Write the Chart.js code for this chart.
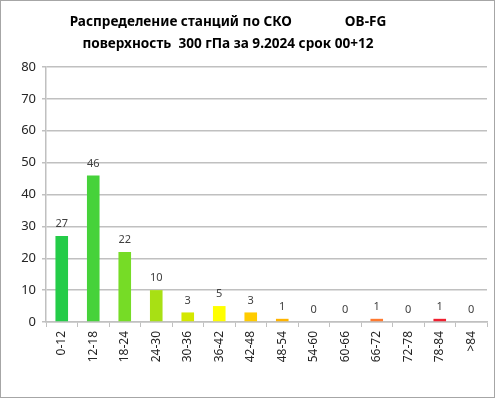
<!DOCTYPE html>
<html>
<head>
<meta charset="utf-8">
<script src="https://cdn.jsdelivr.net/npm/chart.js@4"></script>
<style>
  html, body { margin: 0; padding: 0; background: #fff; }
  #wrap { width: 496px; height: 399px; position: relative; }
</style>
</head>
<body>
<div id="wrap"><canvas id="skoChart" width="496" height="399"></canvas></div>
<script>
// Распределение станций по СКО, OB-FG
const categories = ['0-12', '12-18', '18-24', '24-30', '30-36', '36-42', '42-48',
                    '48-54', '54-60', '60-66', '66-72', '72-78', '78-84', '>84'];
const stationCounts = [27, 46, 22, 10, 3, 5, 3, 1, 0, 0, 1, 0, 1, 0];
const barColors = ['#24cc48', '#46d23a', '#76dc26', '#a8e014', '#d4e800', '#ffff00', '#ffcc00',
                   '#ffb400', '#ff9a10', '#ff8820', '#ff7a30', '#ff5528', '#f02030', '#cc0000'];
const yTicks = [0, 10, 20, 30, 40, 50, 60, 70, 80];
const titleLines = ['Распределение станций по СКО               OB-FG',
                    'поверхность  300 гПа за 9.2024 срок 00+12'];

const FONT = "'Noto Sans', 'DejaVu Sans', sans-serif";

// рамка, заголовок и подписи значений
const decorPlugin = {
    id: 'decor',
    beforeDraw(chart) {
        const ctx = chart.ctx;
        ctx.save();
        ctx.fillStyle = '#fff';
        ctx.fillRect(0, 0, chart.width, chart.height);
        ctx.strokeStyle = '#a6a6a6';
        ctx.lineWidth = 1;
        ctx.strokeRect(0.5, 0.5, 494, 397);
        ctx.restore();
    },
    afterDraw(chart) {
        const ctx = chart.ctx;
        ctx.save();
        ctx.fillStyle = '#000';
        ctx.font = 'bold 13.6px ' + FONT;
        ctx.textAlign = 'center';
        ctx.textBaseline = 'middle';
        ctx.fillText(titleLines[0], 228, 22);
        ctx.fillText(titleLines[1], 228, 44);

        ctx.font = '11px ' + FONT;
        ctx.fillStyle = '#404040';
        const meta = chart.getDatasetMeta(0);
        meta.data.forEach((bar, i) => {
            ctx.fillText(String(stationCounts[i]), bar.x, bar.y - 12);
        });
        ctx.restore();
    }
};

new Chart(document.getElementById('skoChart'), {
    type: 'bar',
    data: {
        labels: categories,
        datasets: [{
            data: stationCounts,
            backgroundColor: barColors,
            borderWidth: 0,
            barPercentage: 0.4,
            categoryPercentage: 1.0
        }]
    },
    options: {
        responsive: false,
        animation: false,
        layout: {
            padding: { top: 67, right: 9, bottom: 0, left: 0 }
        },
        plugins: {
            legend: { display: false },
            title: { display: false },
            tooltip: { enabled: false }
        },
        scales: {
            y: {
                min: 0,
                max: 80,
                afterBuildTicks(scale) {
                    scale.ticks = yTicks.map(v => ({ value: v }));
                },
                afterFit(scale) {
                    scale.width = 46;
                },
                ticks: {
                    font: { family: FONT, size: 13 },
                    color: '#262626',
                    padding: 6
                },
                grid: {
                    color: '#c0c0c0',
                    lineWidth: 1.5,
                    tickLength: 4
                },
                border: { color: '#c0c0c0', width: 1.5 }
            },
            x: {
                afterFit(scale) {
                    scale.height = 77;
                },
                ticks: {
                    font: { family: FONT, size: 12 },
                    color: '#262626',
                    minRotation: 90,
                    maxRotation: 90,
                    padding: 4
                },
                grid: {
                    drawOnChartArea: false,
                    color: '#c0c0c0',
                    tickLength: 5
                },
                border: { color: '#c0c0c0', width: 1.5 }
            }
        }
    },
    plugins: [decorPlugin]
});
</script>
</body>
</html>
